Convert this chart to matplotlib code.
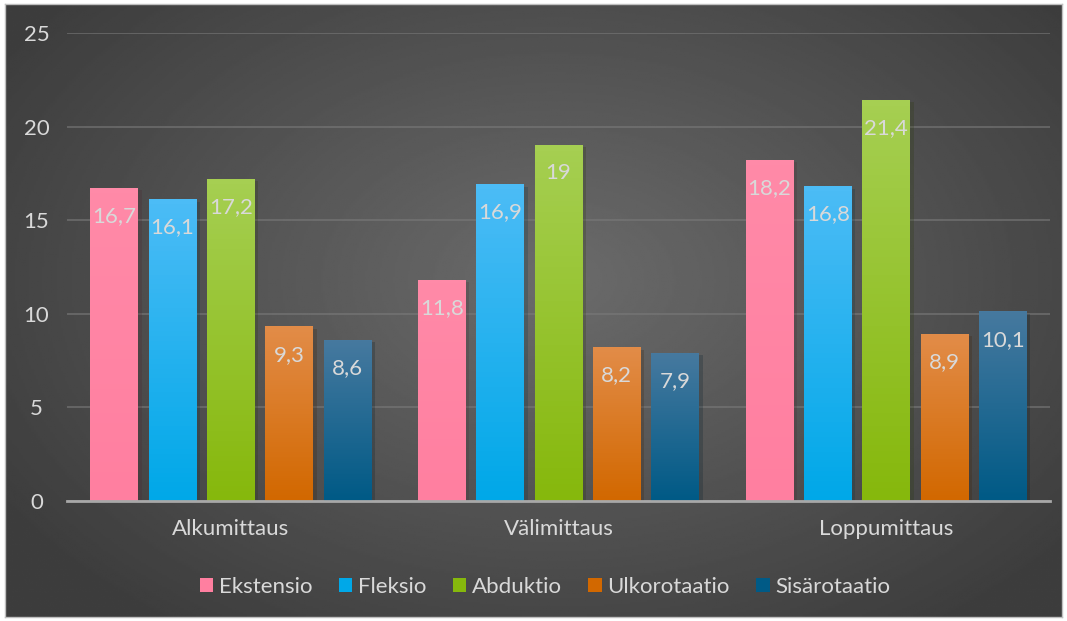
import numpy as np
import matplotlib.pyplot as plt
from matplotlib.colors import LinearSegmentedColormap
from matplotlib.patches import Patch
import matplotlib.patheffects as pe

plt.rcParams['font.family'] = ['Lato', 'DejaVu Sans']

categories = ["Alkumittaus", "Välimittaus", "Loppumittaus"]
series = ["Ekstensio", "Fleksio", "Abduktio", "Ulkorotaatio", "Sisärotaatio"]
ekstensio = [16.7, 11.8, 18.2]
fleksio = [16.1, 16.9, 16.8]
abduktio = [17.2, 19.0, 21.4]
ulkorotaatio = [9.3, 8.2, 8.9]
sisarotaatio = [8.6, 7.9, 10.1]
values = [ekstensio, fleksio, abduktio, ulkorotaatio, sisarotaatio]

# top / bottom colours of each bar gradient
grad = [("#ff8aa8", "#ff7fa0"),
        ("#4cbcf6", "#00a8e8"),
        ("#a6cf52", "#86b80c"),
        ("#e28c48", "#d26800"),
        ("#46799f", "#005a86")]
txt = "#d9d9d9"

fig = plt.figure(figsize=(10.67, 6.21), dpi=100)

# radial background panel
bg = fig.add_axes([5 / 1067, 4 / 621, 1057 / 1067, 613 / 621])
yy, xx = np.mgrid[0:1:300j, 0:1:500j]
r = np.sqrt(((xx - 0.52) / 0.75) ** 2 + ((yy - 0.45) / 0.85) ** 2)
shade = np.clip(0.42 - 0.22 * r, 0.24, 0.42)
bg.imshow(shade, cmap="gray", vmin=0, vmax=1, extent=(0, 1, 0, 1), aspect="auto")
bg.set_xticks([])
bg.set_yticks([])
for s in bg.spines.values():
    s.set_color("#bfbfbf")
    s.set_linewidth(1)

ax = fig.add_axes([67 / 1067, 1 - 501 / 621, (1050 - 67) / 1067, (501 - 33) / 621])
ax.patch.set_alpha(0)

x = np.arange(len(categories))
width = 0.146
step = 0.178
for i, (name, vals) in enumerate(zip(series, values)):
    pos = x + (i - 2) * step
    bars = ax.bar(pos, vals, width, color=grad[i][1], zorder=2,
                  path_effects=[pe.SimplePatchShadow(offset=(2.5, -1.5), alpha=0.22),
                                pe.Normal()])
    cmap = LinearSegmentedColormap.from_list(name, [grad[i][1], grad[i][0]])
    for b, v in zip(bars, vals):
        ax.imshow(np.linspace(0, 1, 64).reshape(-1, 1), cmap=cmap, origin="lower",
                  extent=(b.get_x(), b.get_x() + width, 0, v), aspect="auto", zorder=3)
        lbl = f"{v:g}".replace(".", ",")
        ax.annotate(lbl, (b.get_x() + width / 2, v), xytext=(0, -20),
                    textcoords="offset points", ha="center", va="center",
                    color=txt, fontsize=16, zorder=4)

ax.set_xlim(-0.5, 2.5)
ax.set_ylim(0, 25)
ax.set_yticks(range(0, 26, 5))
ax.set_xticks(x)
ax.set_xticklabels(categories)
ax.tick_params(length=0, colors=txt, labelsize=16)
ax.tick_params(axis="x", pad=13)
ax.tick_params(axis="y", pad=22)
for lab in ax.get_yticklabels():
    lab.set_horizontalalignment("center")
ax.yaxis.grid(True, color="#7a7a7a", linewidth=1.4, alpha=0.6)
ax.set_axisbelow(True)
for s in ["top", "right", "left"]:
    ax.spines[s].set_visible(False)
ax.spines["bottom"].set_color("#a8a8a8")
ax.spines["bottom"].set_linewidth(2)
ax.spines["bottom"].set_zorder(5)

handles = [Patch(facecolor=grad[i][1], edgecolor="none") for i in range(len(series))]
fig.legend(handles, series, loc="center", bbox_to_anchor=(545 / 1067, 1 - 587 / 621),
           ncol=5, frameon=False, fontsize=16, labelcolor=txt,
           handlelength=0.6, handleheight=0.6, handletextpad=0.25, columnspacing=1.2)

fig.savefig("out.png", dpi=100)
